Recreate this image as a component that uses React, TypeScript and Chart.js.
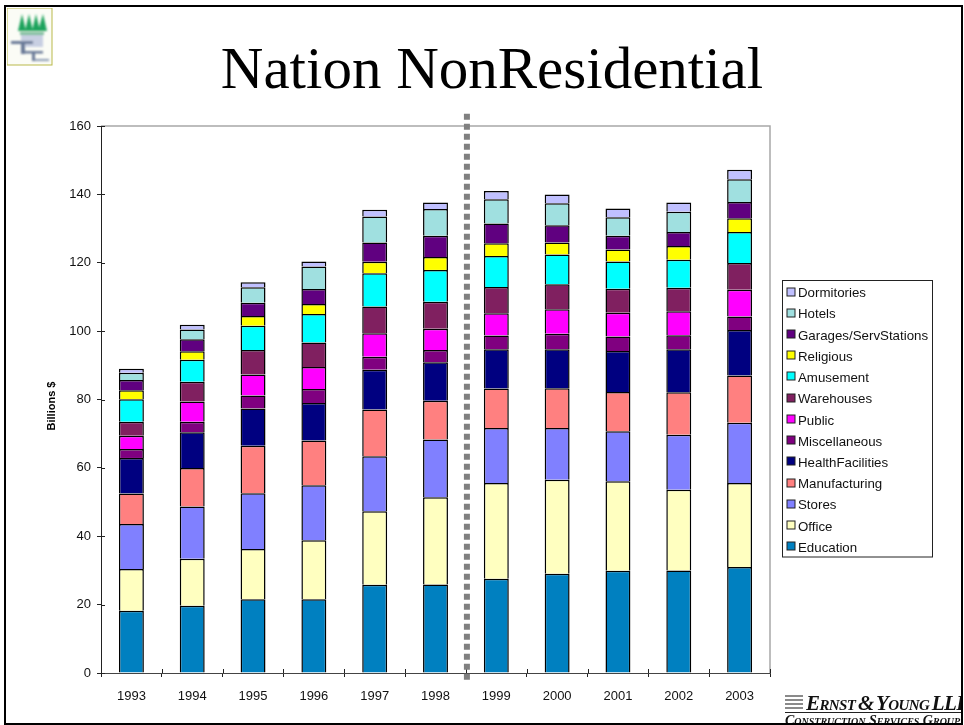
import React, { useEffect, useRef } from "react";
import { Chart, registerables } from "chart.js";

Chart.register(...registerables);

const years = ["1993", "1994", "1995", "1996", "1997", "1998", "1999", "2000", "2001", "2002", "2003"];
const education = [18.2, 19.7, 21.6, 21.6, 25.8, 25.9, 27.6, 29, 29.9, 30, 31];
const office = [12.2, 13.7, 14.7, 17.2, 21.5, 25.5, 28, 27.5, 26.2, 23.6, 24.6];
const stores = [13.2, 15.3, 16.3, 16.1, 16.1, 16.9, 16.1, 15.2, 14.6, 16.1, 17.6];
const manufacturing = [8.9, 11.3, 13.9, 13.1, 13.7, 11.3, 11.5, 11.6, 11.5, 12.4, 13.8];
const healthFacilities = [10.4, 10.4, 10.9, 11, 11.6, 11.3, 11.5, 11.4, 12, 12.6, 13.3];
const miscellaneous = [2.6, 3.1, 3.8, 4.1, 3.8, 3.6, 4, 4.5, 4.2, 4.1, 4];
const publicBuildings = [3.9, 5.9, 6.1, 6.4, 6.9, 6.2, 6.5, 7.2, 7, 7, 7.8];
const warehouses = [4.1, 5.8, 7.2, 7.2, 7.8, 7.9, 7.7, 7.3, 7, 6.9, 7.8];
const amusement = [6.6, 6.4, 7.1, 8.3, 9.7, 9.3, 9.1, 8.7, 8, 8.2, 9.1];
const religious = [2.6, 2.5, 2.8, 2.9, 3.4, 3.8, 3.7, 3.5, 3.5, 4, 4];
const garages = [3, 3.5, 3.9, 4.4, 5.6, 6.2, 5.8, 5.1, 4, 4.1, 4.8];
const hotels = [2.1, 2.9, 4.5, 6.6, 7.6, 7.8, 7.1, 6.4, 5.4, 5.9, 6.6];
const dormitories = [1.2, 1.4, 1.5, 1.5, 2, 1.9, 2.4, 2.6, 2.6, 2.7, 2.8];

const seriesNames = ["Education", "Office", "Stores", "Manufacturing", "HealthFacilities", "Miscellaneous", "Public", "Warehouses", "Amusement", "Religious", "Garages/ServStations", "Hotels", "Dormitories"];
const seriesValues = [education, office, stores, manufacturing, healthFacilities, miscellaneous, publicBuildings, warehouses, amusement, religious, garages, hotels, dormitories];
const seriesColors = ["#0080C0", "#FFFFC0", "#8080FF", "#FF8080", "#000080", "#800080", "#FF00FF", "#802060", "#00FFFF", "#FFFF00", "#600080", "#A0E0E0", "#C0C0FF"];
const yAxisTitle = "Billions $";

const FONT = "'Liberation Sans', Arial, sans-serif";
const SERIF = "'Liberation Serif', 'Times New Roman', serif";

const frameAndAxes = {
  id: "frameAndAxes",
  afterDatasetsDraw(chart: any) {
    const { ctx, chartArea: a, scales } = chart;
    const y = scales.y;
    const x = scales.x;
    ctx.save();
    ctx.strokeStyle = "#A8A8A8";
    ctx.lineWidth = 1.5;
    ctx.beginPath();
    ctx.moveTo(a.left, a.top);
    ctx.lineTo(a.right, a.top);
    ctx.lineTo(a.right, a.bottom);
    ctx.stroke();
    ctx.strokeStyle = "#222";
    ctx.lineWidth = 1;
    ctx.beginPath();
    ctx.moveTo(a.left + 0.5, a.top);
    ctx.lineTo(a.left + 0.5, a.bottom);
    ctx.stroke();
    ctx.strokeStyle = "#444";
    ctx.beginPath();
    ctx.moveTo(a.left, a.bottom + 0.5);
    ctx.lineTo(a.right, a.bottom + 0.5);
    ctx.stroke();
    ctx.strokeStyle = "#222";
    y.ticks.forEach((_: any, i: number) => {
      const py = Math.round(y.getPixelForTick(i)) + 0.5;
      ctx.beginPath();
      ctx.moveTo(a.left, py);
      ctx.lineTo(a.left + 4, py);
      ctx.stroke();
    });
    const step = (a.right - a.left) / years.length;
    for (let i = 0; i <= years.length; i++) {
      const px = Math.round(a.left + i * step) + 0.5;
      ctx.beginPath();
      ctx.moveTo(px, a.bottom - 4);
      ctx.lineTo(px, a.bottom);
      ctx.stroke();
    }
    const midX = (x.getPixelForValue(5) + x.getPixelForValue(6)) / 2 + 1;
    ctx.strokeStyle = "#808080";
    ctx.lineWidth = 6;
    ctx.setLineDash([6, 4]);
    ctx.beginPath();
    ctx.moveTo(midX, y.getPixelForValue(163.6));
    ctx.lineTo(midX, y.getPixelForValue(-2.9));
    ctx.stroke();
    ctx.restore();
  },
  afterDraw(chart: any) {
    const { ctx } = chart;
    ctx.save();
    ctx.save();
    ctx.translate(52, 406);
    ctx.rotate(-Math.PI / 2);
    ctx.font = `bold 11px ${FONT}`;
    ctx.fillStyle = "#000";
    ctx.textAlign = "center";
    ctx.textBaseline = "middle";
    ctx.fillText(yAxisTitle, 0, 0);
    ctx.restore();
    const left = 782.5;
    const top = 280.5;
    const w = 150;
    const h = 276.5;
    ctx.fillStyle = "#fff";
    ctx.fillRect(left, top, w, h);
    ctx.strokeStyle = "#222";
    ctx.lineWidth = 1;
    ctx.strokeRect(left, top, w, h);
    ctx.font = `13.3px ${FONT}`;
    ctx.textBaseline = "middle";
    const rows = chart.data.datasets.slice().reverse();
    rows.forEach((ds: any, i: number) => {
      const cy = 293.5 + i * 21.23;
      ctx.fillStyle = ds.backgroundColor;
      ctx.fillRect(787, Math.round(cy - 6), 8, 8);
      ctx.strokeStyle = "#222";
      ctx.strokeRect(787, Math.round(cy - 6), 8, 8);
      ctx.fillStyle = "#111";
      ctx.fillText(ds.label, 798, cy);
    });
    ctx.restore();
  },
};

export default function App() {
  const ref = useRef<HTMLCanvasElement | null>(null);

  useEffect(() => {
    if (!ref.current) return;
    const chart = new Chart(ref.current, {
      type: "bar",
      data: {
        labels: years,
        datasets: seriesNames.map((label, i) => ({
          label,
          data: seriesValues[i],
          backgroundColor: seriesColors[i],
          borderColor: "#000",
          borderWidth: 1.5,
          borderSkipped: "start",
          categoryPercentage: 1,
          barPercentage: 0.41,
        })),
      },
      options: {
        responsive: false,
        animation: false,
        layout: { padding: { top: 126, right: 194, left: 0, bottom: 0 } },
        plugins: { legend: { display: false }, tooltip: { enabled: false } },
        scales: {
          x: {
            stacked: true,
            afterFit: (s: any) => { s.height = 52; },
            grid: { drawOnChartArea: false, drawTicks: true, tickLength: 4, tickColor: "#222" },
            border: { color: "#444" },
            ticks: { color: "#111", font: { family: FONT, size: 13 }, padding: 12, maxRotation: 0 },
          },
          y: {
            stacked: true,
            min: 0,
            max: 160,
            afterFit: (s: any) => { s.width = 101; },
            grid: { drawOnChartArea: false, drawTicks: true, tickLength: 4, tickColor: "#222" },
            border: { color: "#222" },
            ticks: { stepSize: 20, color: "#111", font: { family: FONT, size: 13 }, padding: 6 },
          },
        },
      },
      plugins: [frameAndAxes],
    } as any);
    return () => chart.destroy();
  }, []);

  return (
    <div style={{ position: "absolute", left: 0, top: 0, width: 964, height: 725, overflow: "hidden", background: "#fff" }}>
      <canvas ref={ref} width={964} height={725} style={{ position: "absolute", left: 0, top: 0, display: "block" }} />
      <div style={{ position: "absolute", left: 0, width: 984, top: 33, textAlign: "center", fontFamily: SERIF, fontSize: 59, lineHeight: "70px", color: "#000", whiteSpace: "nowrap" }}>
        Nation NonResidential
      </div>
      <svg width={46} height={58} style={{ position: "absolute", left: 7, top: 8 }}>
        <defs><filter id="b" x="-20%" y="-20%" width="140%" height="140%"><feGaussianBlur stdDeviation="1" /></filter></defs>
        <rect x={0} y={0} width={45} height={57} fill="#FBFCF6" stroke="#B9B94A" strokeWidth={1} />
        <g filter="url(#b)">
          <path d="M11 23 L15 6 L19 23Z M18 23 L22 6 L26 23Z M25 23 L29 6 L33 23Z M31 23 L36 6 L40 23Z" fill="#1FA35C" />
          <rect x={13} y={24} width={24} height={3} fill="#7FBF9C" />
          <rect x={14} y={27} width={22} height={12} fill="#C8CFE2" />
          <rect x={4} y={33} width={22} height={3} fill="#6A7A98" />
          <rect x={14} y={36} width={4} height={10} fill="#6A7A98" />
          <rect x={18} y={43} width={18} height={2.5} fill="#6A7A98" />
          <rect x={25} y={45} width={3} height={8} fill="#6A7A98" />
          <rect x={28} y={51} width={14} height={2} fill="#8A9AB4" />
        </g>
      </svg>
      <div style={{ position: "absolute", left: 785, top: 695, width: 18, height: 15, background: "repeating-linear-gradient(180deg,#8a8a8a 0 2px,#fff 2px 4px)" }} />
      <div style={{ position: "absolute", left: 806, top: 691, fontFamily: SERIF, fontStyle: "italic", fontWeight: 700, fontVariant: "small-caps", fontSize: 21, lineHeight: "24px", letterSpacing: -0.6, wordSpacing: -2, color: "#111", whiteSpace: "nowrap", width: 156, overflow: "hidden" }}>
        Ernst &amp; Young LLP
      </div>
      <div style={{ position: "absolute", left: 785, top: 712, width: 178, height: 1, background: "#222" }} />
      <div style={{ position: "absolute", left: 785, top: 713, fontFamily: SERIF, fontStyle: "italic", fontWeight: 700, fontVariant: "small-caps", fontSize: 14, lineHeight: "16px", color: "#111", whiteSpace: "nowrap", width: 176, overflow: "hidden" }}>
        Construction Services Group
      </div>
      <div style={{ position: "absolute", left: 4, top: 5, width: 959, height: 720, boxSizing: "border-box", border: "2.5px solid #000", pointerEvents: "none" }} />
    </div>
  );
}
